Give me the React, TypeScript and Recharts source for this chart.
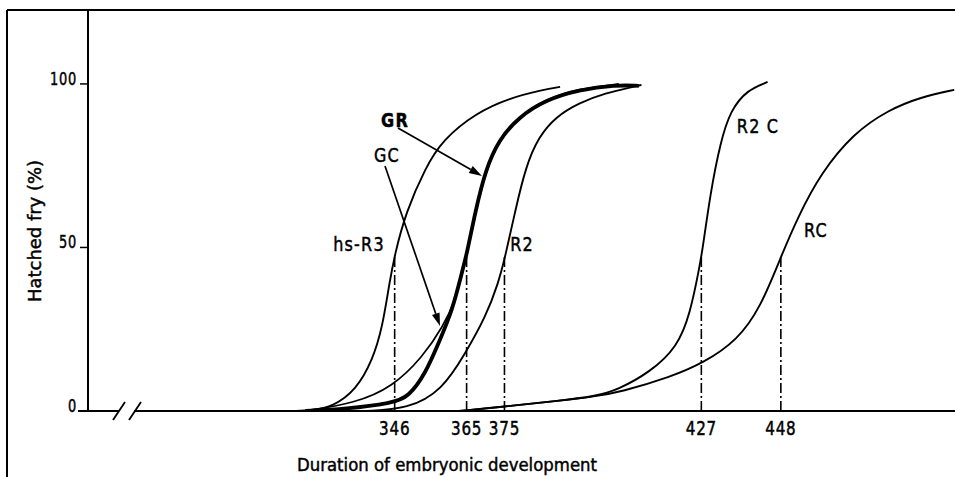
import React from 'react';
import { LineChart, Line, XAxis, YAxis, ReferenceLine, Customized } from 'recharts';

// 50 % hatching times marked on the x axis
const halfTimes = [346, 365, 375, 427, 448];
const halfLevel = 48;
const yTicks = [0, 50, 100];

// [duration, hatched %]
const hsR3: [number, number][] = [
  [319, 0], [324.3, 0.3], [329.6, 1.3], [335.8, 6.4], [340.2, 15.6], [342.8, 25.8],
  [344.6, 39.1], [346, 47.7], [348.9, 60.6], [354.2, 74.6], [358.7, 82.9],
  [367.4, 91.1], [376.4, 95.7], [385.2, 98.2], [389.7, 99.1],
];
const gc: [number, number][] = [
  [322.4, 0], [335.6, 2.4], [345.4, 7.3], [353.4, 16.5], [358.7, 25.7], [362.1, 33.9],
  [364.7, 45.6], [367.4, 60.9], [370, 73.1], [373.5, 82.6], [378.8, 89.9],
  [385.9, 95.4], [394.6, 98.5], [405.2, 100],
];
const gr: [number, number][] = [
  [322.4, 0], [333, 0.6], [345.4, 2.4], [349.7, 4.3], [354.2, 11.6], [357.6, 20.8],
  [361.3, 30.9], [363.9, 43.1], [365, 47.7], [367.4, 61.5], [370, 73.7], [373.5, 82.9],
  [378.8, 89.9], [385.9, 95.1], [394.6, 98.2], [404.4, 99.7], [410.5, 99.4],
];
const r2: [number, number][] = [
  [338.2, 0], [349.6, 0.6], [358.6, 6.4], [364.7, 17.7], [370, 28.7], [373.4, 39.1],
  [375.3, 47.7], [377.9, 61.5], [380.6, 74.6], [384, 83.8], [388.5, 89.9],
  [394.6, 94.2], [401.7, 97.2], [408.9, 99.1], [411.2, 99.7],
];
const r2c: [number, number][] = [
  [363, 0], [373.5, 1.2], [389.3, 3.1], [399, 4.5], [404.8, 6.4], [413.5, 11.9],
  [420.7, 19.6], [424.1, 30], [426.5, 44], [427.3, 49.2], [429.4, 66.7], [432, 82],
  [434.7, 92], [439.2, 98.2], [444.5, 100.6],
];
const rc: [number, number][] = [
  [363, 0], [373.5, 1.2], [389.3, 3.1], [399, 4.5], [405.7, 5.8], [418.9, 10.4],
  [427.6, 14.7], [436.6, 21.7], [442.7, 31.8], [448, 47.1], [452.5, 59.3],
  [458.6, 72.8], [467.3, 85], [476.3, 92], [485, 96], [493.8, 98.2],
];

const series = [
  { name: 'hs-R3', points: hsR3, width: 1.9 },
  { name: 'GC', points: gc, width: 1.7 },
  { name: 'GR', points: gr, width: 3.8 },
  { name: 'R2', points: r2, width: 1.9 },
  { name: 'R2 C', points: r2c, width: 1.9 },
  { name: 'RC', points: rc, width: 1.9 },
];

const FONT = "'DejaVu Sans', sans-serif";

// narrow, tall lettering like the drawing stencil
const Narrow = ({ x, y, size, sx, anchor = 'middle', bold = false, spacing = 0, children }: any) => (
  <g transform={`translate(${x} ${y}) scale(${sx} 1)`}>
    <text
      x={0}
      y={0}
      textAnchor={anchor}
      fontFamily={FONT}
      fontSize={size}
      fontWeight={bold ? 'bold' : 'normal'}
      letterSpacing={spacing}
      fill="#000"
      stroke="#000"
      strokeWidth={0.5}
    >
      {children}
    </text>
  </g>
);

const XTick = ({ x, y, payload }: any) => (
  <Narrow x={x} y={y + 24} size={20} sx={0.76} spacing={1}>
    {payload.value}
  </Narrow>
);

const YTick = ({ x, y, payload }: any) => (
  <Narrow x={x} y={y + 1} size={18} sx={0.72} anchor="end" spacing={1}>
    {payload.value}
  </Narrow>
);

function arrow(x1: number, y1: number, x2: number, y2: number) {
  const a = Math.atan2(y2 - y1, x2 - x1);
  const len = 13;
  const w = 4;
  const bx = x2 - len * Math.cos(a);
  const by = y2 - len * Math.sin(a);
  const px = -Math.sin(a) * w;
  const py = Math.cos(a) * w;
  return (
    <g>
      <line x1={x1} y1={y1} x2={bx} y2={by} stroke="#000" strokeWidth={1.7} />
      <polygon points={`${x2},${y2} ${bx + px},${by + py} ${bx - px},${by - py}`} fill="#000" />
    </g>
  );
}

const curveLabels = [
  { text: 'GR', x: 395, y: 127, bold: true },
  { text: 'GC', x: 387, y: 162 },
  { text: 'hs-R3', x: 359, y: 251 },
  { text: 'R2', x: 522, y: 251 },
  { text: 'R2 C', x: 758, y: 133 },
  { text: 'RC', x: 816, y: 237 },
];

const Overlay = () => (
  <g>
    {/* frame */}
    <line x1={7} y1={10} x2={955} y2={10} stroke="#000" strokeWidth={2} />
    <line x1={7} y1={10} x2={7} y2={477} stroke="#000" strokeWidth={2} />
    {/* broken x axis */}
    <line x1={78} y1={411} x2={119} y2={411} stroke="#000" strokeWidth={2} />
    <line x1={134} y1={411} x2={955} y2={411} stroke="#000" strokeWidth={2} />
    <line x1={113} y1={420} x2={125} y2={402} stroke="#000" strokeWidth={1.8} />
    <line x1={129} y1={420} x2={141} y2={402} stroke="#000" strokeWidth={1.8} />
    {curveLabels.map((l) => (
      <Narrow key={l.text} x={l.x} y={l.y} size={20} sx={0.8} bold={l.bold} spacing={1.5}>
        {l.text}
      </Narrow>
    ))}
    {arrow(398, 128, 482, 176)}
    {arrow(385, 166, 440, 326)}
    <text
      x={447}
      y={471}
      textAnchor="middle"
      fontFamily={FONT}
      fontSize={17}
      textLength={300}
      lengthAdjust="spacingAndGlyphs"
      fill="#000"
      stroke="#000"
      strokeWidth={0.45}
    >
      Duration of embryonic development
    </text>
    <text
      x={0}
      y={0}
      transform="translate(41 231) rotate(-90)"
      textAnchor="middle"
      fontFamily={FONT}
      fontSize={17}
      textLength={142}
      lengthAdjust="spacingAndGlyphs"
      fill="#000"
      stroke="#000"
      strokeWidth={0.45}
    >
      Hatched fry (%)
    </text>
  </g>
);

export default function App() {
  return (
    <div style={{ position: 'absolute', left: 0, top: 0, width: 955, height: 477, background: '#fff' }}>
      <LineChart width={955} height={477} margin={{ top: 10, right: 0, bottom: 0, left: 0 }}>
        <XAxis
          dataKey="x"
          type="number"
          domain={[265, 494]}
          ticks={halfTimes}
          allowDataOverflow
          axisLine={false}
          tickLine={false}
          tickSize={0}
          tickMargin={0}
          height={66}
          tick={<XTick />}
        />
        <YAxis
          type="number"
          domain={[0, 122.6]}
          ticks={yTicks}
          allowDataOverflow
          width={88}
          axisLine={{ stroke: '#000', strokeWidth: 2 }}
          tickLine={{ stroke: '#000', strokeWidth: 1.5 }}
          tickSize={8}
          tickMargin={3}
          tick={<YTick />}
        />
        {halfTimes.map((t) => (
          <ReferenceLine
            key={t}
            segment={[{ x: t, y: 0 }, { x: t, y: halfLevel }]}
            stroke="#000"
            strokeWidth={1.6}
            strokeDasharray="10 3 2 3"
          />
        ))}
        {series.map((s) => (
          <Line
            key={s.name}
            data={s.points.map(([x, y]) => ({ x, y }))}
            dataKey="y"
            type="basis"
            stroke="#000"
            strokeWidth={s.width}
            dot={false}
            activeDot={false}
            isAnimationActive={false}
          />
        ))}
        <Customized component={Overlay} />
      </LineChart>
    </div>
  );
}
